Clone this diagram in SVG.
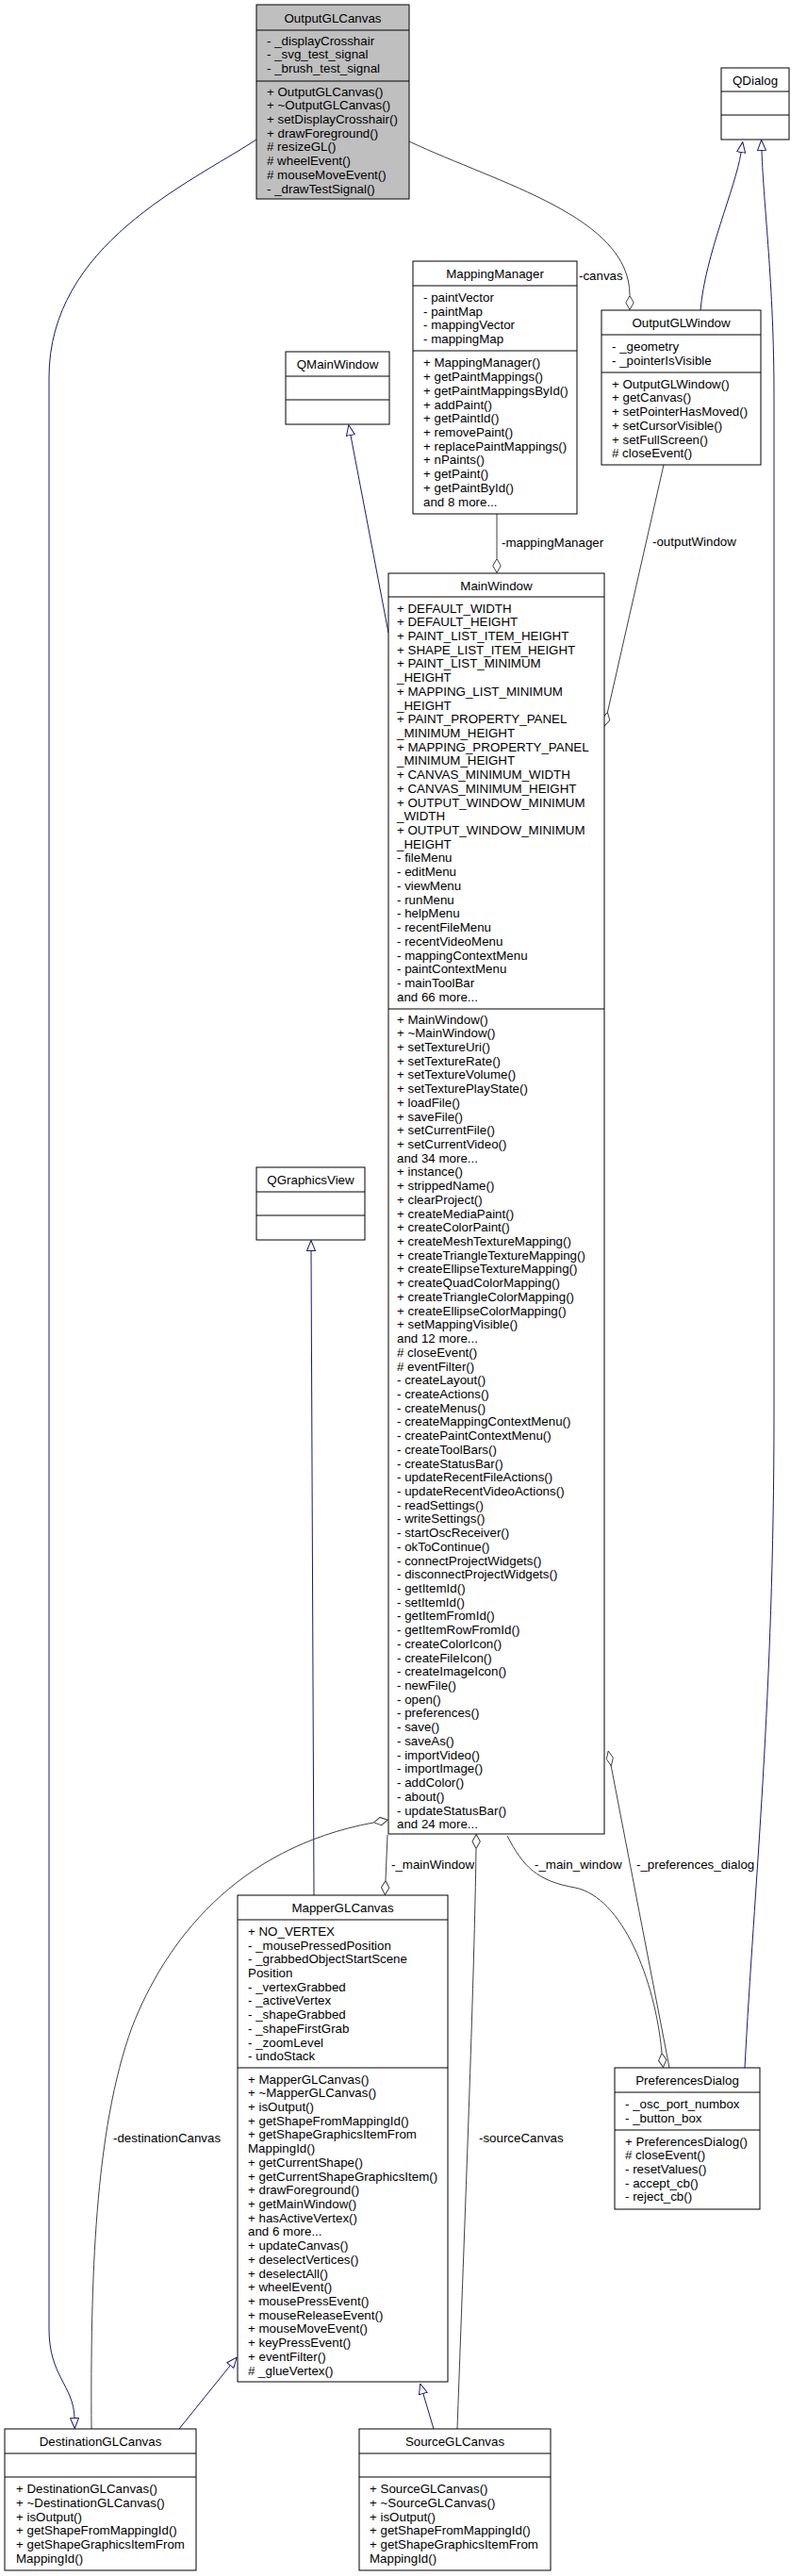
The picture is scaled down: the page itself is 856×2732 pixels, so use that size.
<svg xmlns="http://www.w3.org/2000/svg" width="856" height="2732" viewBox="0 0 856 2732">
<defs>
<style>
text{font-family:"Liberation Sans",Arial,Helvetica,sans-serif;font-size:13.33px;fill:#000}
.t{text-anchor:middle}
.box{fill:#fff;stroke:#000;stroke-width:1}
.gray{fill:#bfbfbf;stroke:#000;stroke-width:1}
.sep{stroke:#000;stroke-width:1}
.inh{fill:none;stroke:#191970;stroke-width:1;marker-end:url(#tri)}
.agg{fill:none;stroke:#404040;stroke-width:1;marker-end:url(#dia)}
.ln{fill:none;stroke:#404040;stroke-width:1}
</style>
<marker id="tri" viewBox="0 0 12 10" refX="0" refY="5" markerWidth="12" markerHeight="10" markerUnits="userSpaceOnUse" orient="auto"><path d="M0.5,0.5 L11.5,5 L0.5,9.5 z" fill="#fff" stroke="#191970"/></marker>
<marker id="dia" viewBox="0 0 16 10" refX="0" refY="5" markerWidth="16" markerHeight="10" markerUnits="userSpaceOnUse" orient="auto"><path d="M0.5,5 L8,0.8 L15.5,5 L8,9.2 z" fill="#fff" stroke="#404040"/></marker>
</defs>
<rect width="856" height="2732" fill="#fff"/>
<g id="edges">
<path class="inh" d="M272,148 C200,195 52,260 52,400 L52,2470 C52,2520 78,2530 79,2564"/>
<path class="agg" d="M434,150 C530,195 668,230 668,313"/>
<text x="614" y="297">-canvas</text>
<path class="inh" d="M743,329 C748,270 780,200 786,162"/>
<path class="inh" d="M790,2193 C800,2000 821,1800 821,1500 L821,420 C821,300 810,220 808,160"/>
<path class="agg" d="M704,493 L644.5,755"/>
<text x="692" y="579">-outputWindow</text>
<path class="agg" d="M527,545 L527,592"/>
<text x="532" y="580">-mappingManager</text>
<path class="inh" d="M412,671 L372,462"/>
<path class="inh" d="M333,2010 L330,1327"/>
<path class="inh" d="M190,2576 L244,2509"/>
<path class="inh" d="M460,2576 L449,2539"/>
<path class="agg" d="M97,2576 C96,2420 100,2260 140,2150 C175,2060 250,1960 396,1933"/>
<text x="120" y="2272">-destinationCanvas</text>
<path class="agg" d="M485,2576 C495,2300 503,2100 505,1961"/>
<text x="508" y="2272">-sourceCanvas</text>
<path class="agg" d="M411,1946 L409,1994"/>
<text x="415" y="1982">-_mainWindow</text>
<path class="agg" d="M538,1947 C555,1980 570,1995 610,2002 C660,2012 695,2100 702,2177"/>
<text x="567" y="1982">-_main_window</text>
<path class="ln" d="M710,2193 L648,1872"/>
<path d="M645.2,1857 L650.3,1864.2 L648.4,1872.8 L643.3,1865.6 z" fill="#fff" stroke="#404040"/>
<text x="675" y="1982">-_preferences_dialog</text>
</g>
<g id="OutputGLCanvas">
<rect class="gray" x="272" y="5" width="162" height="206"/>
<line class="sep" x1="272" y1="32" x2="434" y2="32"/>
<line class="sep" x1="272" y1="86" x2="434" y2="86"/>
<text class="t" x="353" y="23.5">OutputGLCanvas</text>
<text x="283" y="47.5">- _displayCrosshair<tspan x="283" dy="14.72">- _svg_test_signal</tspan><tspan x="283" dy="14.72">- _brush_test_signal</tspan></text>
<text x="283" y="101.5">+ OutputGLCanvas()<tspan x="283" dy="14.72">+ ~OutputGLCanvas()</tspan><tspan x="283" dy="14.72">+ setDisplayCrosshair()</tspan><tspan x="283" dy="14.72">+ drawForeground()</tspan><tspan x="283" dy="14.72"># resizeGL()</tspan><tspan x="283" dy="14.72"># wheelEvent()</tspan><tspan x="283" dy="14.72"># mouseMoveEvent()</tspan><tspan x="283" dy="14.72">- _drawTestSignal()</tspan></text>
</g>
<g id="QDialog">
<rect class="box" x="765" y="72" width="72" height="76"/>
<line class="sep" x1="765" y1="97" x2="837" y2="97"/>
<line class="sep" x1="765" y1="122" x2="837" y2="122"/>
<text class="t" x="801" y="89.5">QDialog</text>
</g>
<g id="MappingManager">
<rect class="box" x="438" y="277" width="174" height="268"/>
<line class="sep" x1="438" y1="303" x2="612" y2="303"/>
<line class="sep" x1="438" y1="372" x2="612" y2="372"/>
<text class="t" x="525" y="294.5">MappingManager</text>
<text x="449" y="320">- paintVector<tspan x="449" dy="14.72">- paintMap</tspan><tspan x="449" dy="14.72">- mappingVector</tspan><tspan x="449" dy="14.72">- mappingMap</tspan></text>
<text x="449" y="389.4">+ MappingManager()<tspan x="449" dy="14.72">+ getPaintMappings()</tspan><tspan x="449" dy="14.72">+ getPaintMappingsById()</tspan><tspan x="449" dy="14.72">+ addPaint()</tspan><tspan x="449" dy="14.72">+ getPaintId()</tspan><tspan x="449" dy="14.72">+ removePaint()</tspan><tspan x="449" dy="14.72">+ replacePaintMappings()</tspan><tspan x="449" dy="14.72">+ nPaints()</tspan><tspan x="449" dy="14.72">+ getPaint()</tspan><tspan x="449" dy="14.72">+ getPaintById()</tspan><tspan x="449" dy="14.72">and 8 more...</tspan></text>
</g>
<g id="OutputGLWindow">
<rect class="box" x="638" y="329" width="169" height="164"/>
<line class="sep" x1="638" y1="355" x2="807" y2="355"/>
<line class="sep" x1="638" y1="395" x2="807" y2="395"/>
<text class="t" x="722.5" y="346.5">OutputGLWindow</text>
<text x="649" y="372">- _geometry<tspan x="649" dy="14.72">- _pointerIsVisible</tspan></text>
<text x="649" y="411.7">+ OutputGLWindow()<tspan x="649" dy="14.72">+ getCanvas()</tspan><tspan x="649" dy="14.72">+ setPointerHasMoved()</tspan><tspan x="649" dy="14.72">+ setCursorVisible()</tspan><tspan x="649" dy="14.72">+ setFullScreen()</tspan><tspan x="649" dy="14.72"># closeEvent()</tspan></text>
</g>
<g id="QMainWindow">
<rect class="box" x="303" y="373" width="110" height="77"/>
<line class="sep" x1="303" y1="399" x2="413" y2="399"/>
<line class="sep" x1="303" y1="424" x2="413" y2="424"/>
<text class="t" x="358" y="390.5">QMainWindow</text>
</g>
<g id="MainWindow">
<rect class="box" x="412" y="608" width="229" height="1337"/>
<line class="sep" x1="412" y1="633" x2="641" y2="633"/>
<line class="sep" x1="412" y1="1070" x2="641" y2="1070"/>
<text class="t" x="526.5" y="625.5">MainWindow</text>
<text x="421" y="649.5">+ DEFAULT_WIDTH<tspan x="421" dy="14.72">+ DEFAULT_HEIGHT</tspan><tspan x="421" dy="14.72">+ PAINT_LIST_ITEM_HEIGHT</tspan><tspan x="421" dy="14.72">+ SHAPE_LIST_ITEM_HEIGHT</tspan><tspan x="421" dy="14.72">+ PAINT_LIST_MINIMUM</tspan><tspan x="421" dy="14.72">_HEIGHT</tspan><tspan x="421" dy="14.72">+ MAPPING_LIST_MINIMUM</tspan><tspan x="421" dy="14.72">_HEIGHT</tspan><tspan x="421" dy="14.72">+ PAINT_PROPERTY_PANEL</tspan><tspan x="421" dy="14.72">_MINIMUM_HEIGHT</tspan><tspan x="421" dy="14.72">+ MAPPING_PROPERTY_PANEL</tspan><tspan x="421" dy="14.72">_MINIMUM_HEIGHT</tspan><tspan x="421" dy="14.72">+ CANVAS_MINIMUM_WIDTH</tspan><tspan x="421" dy="14.72">+ CANVAS_MINIMUM_HEIGHT</tspan><tspan x="421" dy="14.72">+ OUTPUT_WINDOW_MINIMUM</tspan><tspan x="421" dy="14.72">_WIDTH</tspan><tspan x="421" dy="14.72">+ OUTPUT_WINDOW_MINIMUM</tspan><tspan x="421" dy="14.72">_HEIGHT</tspan><tspan x="421" dy="14.72">- fileMenu</tspan><tspan x="421" dy="14.72">- editMenu</tspan><tspan x="421" dy="14.72">- viewMenu</tspan><tspan x="421" dy="14.72">- runMenu</tspan><tspan x="421" dy="14.72">- helpMenu</tspan><tspan x="421" dy="14.72">- recentFileMenu</tspan><tspan x="421" dy="14.72">- recentVideoMenu</tspan><tspan x="421" dy="14.72">- mappingContextMenu</tspan><tspan x="421" dy="14.72">- paintContextMenu</tspan><tspan x="421" dy="14.72">- mainToolBar</tspan><tspan x="421" dy="14.72">and 66 more...</tspan></text>
<text x="421" y="1085.5">+ MainWindow()<tspan x="421" dy="14.72">+ ~MainWindow()</tspan><tspan x="421" dy="14.72">+ setTextureUri()</tspan><tspan x="421" dy="14.72">+ setTextureRate()</tspan><tspan x="421" dy="14.72">+ setTextureVolume()</tspan><tspan x="421" dy="14.72">+ setTexturePlayState()</tspan><tspan x="421" dy="14.72">+ loadFile()</tspan><tspan x="421" dy="14.72">+ saveFile()</tspan><tspan x="421" dy="14.72">+ setCurrentFile()</tspan><tspan x="421" dy="14.72">+ setCurrentVideo()</tspan><tspan x="421" dy="14.72">and 34 more...</tspan><tspan x="421" dy="14.72">+ instance()</tspan><tspan x="421" dy="14.72">+ strippedName()</tspan><tspan x="421" dy="14.72">+ clearProject()</tspan><tspan x="421" dy="14.72">+ createMediaPaint()</tspan><tspan x="421" dy="14.72">+ createColorPaint()</tspan><tspan x="421" dy="14.72">+ createMeshTextureMapping()</tspan><tspan x="421" dy="14.72">+ createTriangleTextureMapping()</tspan><tspan x="421" dy="14.72">+ createEllipseTextureMapping()</tspan><tspan x="421" dy="14.72">+ createQuadColorMapping()</tspan><tspan x="421" dy="14.72">+ createTriangleColorMapping()</tspan><tspan x="421" dy="14.72">+ createEllipseColorMapping()</tspan><tspan x="421" dy="14.72">+ setMappingVisible()</tspan><tspan x="421" dy="14.72">and 12 more...</tspan><tspan x="421" dy="14.72"># closeEvent()</tspan><tspan x="421" dy="14.72"># eventFilter()</tspan><tspan x="421" dy="14.72">- createLayout()</tspan><tspan x="421" dy="14.72">- createActions()</tspan><tspan x="421" dy="14.72">- createMenus()</tspan><tspan x="421" dy="14.72">- createMappingContextMenu()</tspan><tspan x="421" dy="14.72">- createPaintContextMenu()</tspan><tspan x="421" dy="14.72">- createToolBars()</tspan><tspan x="421" dy="14.72">- createStatusBar()</tspan><tspan x="421" dy="14.72">- updateRecentFileActions()</tspan><tspan x="421" dy="14.72">- updateRecentVideoActions()</tspan><tspan x="421" dy="14.72">- readSettings()</tspan><tspan x="421" dy="14.72">- writeSettings()</tspan><tspan x="421" dy="14.72">- startOscReceiver()</tspan><tspan x="421" dy="14.72">- okToContinue()</tspan><tspan x="421" dy="14.72">- connectProjectWidgets()</tspan><tspan x="421" dy="14.72">- disconnectProjectWidgets()</tspan><tspan x="421" dy="14.72">- getItemId()</tspan><tspan x="421" dy="14.72">- setItemId()</tspan><tspan x="421" dy="14.72">- getItemFromId()</tspan><tspan x="421" dy="14.72">- getItemRowFromId()</tspan><tspan x="421" dy="14.72">- createColorIcon()</tspan><tspan x="421" dy="14.72">- createFileIcon()</tspan><tspan x="421" dy="14.72">- createImageIcon()</tspan><tspan x="421" dy="14.72">- newFile()</tspan><tspan x="421" dy="14.72">- open()</tspan><tspan x="421" dy="14.72">- preferences()</tspan><tspan x="421" dy="14.72">- save()</tspan><tspan x="421" dy="14.72">- saveAs()</tspan><tspan x="421" dy="14.72">- importVideo()</tspan><tspan x="421" dy="14.72">- importImage()</tspan><tspan x="421" dy="14.72">- addColor()</tspan><tspan x="421" dy="14.72">- about()</tspan><tspan x="421" dy="14.72">- updateStatusBar()</tspan><tspan x="421" dy="14.72">and 24 more...</tspan></text>
</g>
<g id="QGraphicsView">
<rect class="box" x="272" y="1238" width="115" height="77"/>
<line class="sep" x1="272" y1="1264" x2="387" y2="1264"/>
<line class="sep" x1="272" y1="1289" x2="387" y2="1289"/>
<text class="t" x="329.5" y="1255.5">QGraphicsView</text>
</g>
<g id="MapperGLCanvas">
<rect class="box" x="252" y="2010" width="223" height="516"/>
<line class="sep" x1="252" y1="2036" x2="475" y2="2036"/>
<line class="sep" x1="252" y1="2193" x2="475" y2="2193"/>
<text class="t" x="363.5" y="2027.5">MapperGLCanvas</text>
<text x="263" y="2052.8">+ NO_VERTEX<tspan x="263" dy="14.72">- _mousePressedPosition</tspan><tspan x="263" dy="14.72">- _grabbedObjectStartScene</tspan><tspan x="263" dy="14.72">Position</tspan><tspan x="263" dy="14.72">- _vertexGrabbed</tspan><tspan x="263" dy="14.72">- _activeVertex</tspan><tspan x="263" dy="14.72">- _shapeGrabbed</tspan><tspan x="263" dy="14.72">- _shapeFirstGrab</tspan><tspan x="263" dy="14.72">- _zoomLevel</tspan><tspan x="263" dy="14.72">- undoStack</tspan></text>
<text x="263" y="2209.5">+ MapperGLCanvas()<tspan x="263" dy="14.72">+ ~MapperGLCanvas()</tspan><tspan x="263" dy="14.72">+ isOutput()</tspan><tspan x="263" dy="14.72">+ getShapeFromMappingId()</tspan><tspan x="263" dy="14.72">+ getShapeGraphicsItemFrom</tspan><tspan x="263" dy="14.72">MappingId()</tspan><tspan x="263" dy="14.72">+ getCurrentShape()</tspan><tspan x="263" dy="14.72">+ getCurrentShapeGraphicsItem()</tspan><tspan x="263" dy="14.72">+ drawForeground()</tspan><tspan x="263" dy="14.72">+ getMainWindow()</tspan><tspan x="263" dy="14.72">+ hasActiveVertex()</tspan><tspan x="263" dy="14.72">and 6 more...</tspan><tspan x="263" dy="14.72">+ updateCanvas()</tspan><tspan x="263" dy="14.72">+ deselectVertices()</tspan><tspan x="263" dy="14.72">+ deselectAll()</tspan><tspan x="263" dy="14.72">+ wheelEvent()</tspan><tspan x="263" dy="14.72">+ mousePressEvent()</tspan><tspan x="263" dy="14.72">+ mouseReleaseEvent()</tspan><tspan x="263" dy="14.72">+ mouseMoveEvent()</tspan><tspan x="263" dy="14.72">+ keyPressEvent()</tspan><tspan x="263" dy="14.72">+ eventFilter()</tspan><tspan x="263" dy="14.72"># _glueVertex()</tspan></text>
</g>
<g id="PreferencesDialog">
<rect class="box" x="652" y="2193" width="154" height="150"/>
<line class="sep" x1="652" y1="2219" x2="806" y2="2219"/>
<line class="sep" x1="652" y1="2259" x2="806" y2="2259"/>
<text class="t" x="729" y="2210.5">PreferencesDialog</text>
<text x="663" y="2236">- _osc_port_numbox<tspan x="663" dy="14.72">- _button_box</tspan></text>
<text x="663" y="2275.5">+ PreferencesDialog()<tspan x="663" dy="14.72"># closeEvent()</tspan><tspan x="663" dy="14.72">- resetValues()</tspan><tspan x="663" dy="14.72">- accept_cb()</tspan><tspan x="663" dy="14.72">- reject_cb()</tspan></text>
</g>
<g id="DestinationGLCanvas">
<rect class="box" x="5" y="2576" width="203" height="150"/>
<line class="sep" x1="5" y1="2602" x2="208" y2="2602"/>
<line class="sep" x1="5" y1="2627" x2="208" y2="2627"/>
<text class="t" x="106.5" y="2593.5">DestinationGLCanvas</text>
<text x="17" y="2644.2">+ DestinationGLCanvas()<tspan x="17" dy="14.72">+ ~DestinationGLCanvas()</tspan><tspan x="17" dy="14.72">+ isOutput()</tspan><tspan x="17" dy="14.72">+ getShapeFromMappingId()</tspan><tspan x="17" dy="14.72">+ getShapeGraphicsItemFrom</tspan><tspan x="17" dy="14.72">MappingId()</tspan></text>
</g>
<g id="SourceGLCanvas">
<rect class="box" x="381" y="2576" width="203" height="150"/>
<line class="sep" x1="381" y1="2602" x2="584" y2="2602"/>
<line class="sep" x1="381" y1="2627" x2="584" y2="2627"/>
<text class="t" x="482.5" y="2593.5">SourceGLCanvas</text>
<text x="392" y="2644.2">+ SourceGLCanvas()<tspan x="392" dy="14.72">+ ~SourceGLCanvas()</tspan><tspan x="392" dy="14.72">+ isOutput()</tspan><tspan x="392" dy="14.72">+ getShapeFromMappingId()</tspan><tspan x="392" dy="14.72">+ getShapeGraphicsItemFrom</tspan><tspan x="392" dy="14.72">MappingId()</tspan></text>
</g>
</svg>
